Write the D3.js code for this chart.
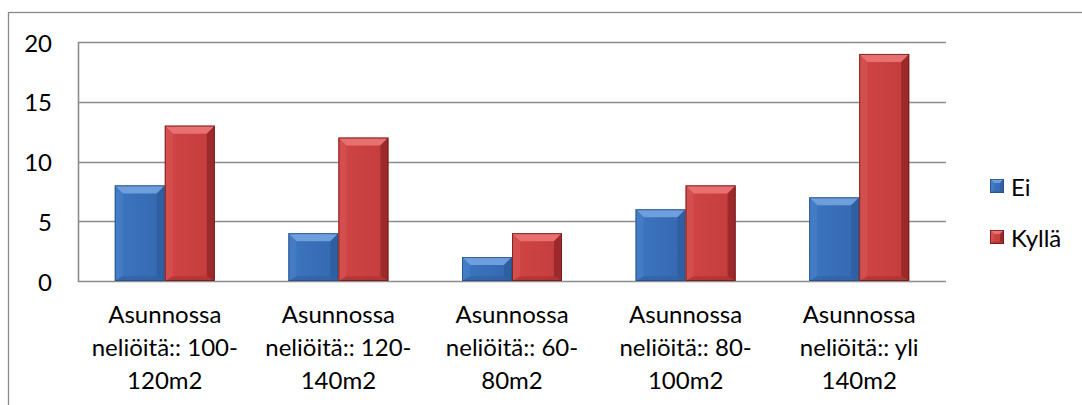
<!DOCTYPE html>
<html>
<head>
<meta charset="utf-8">
<script src="https://cdn.jsdelivr.net/npm/d3@7"></script>
<style>
  html, body { margin: 0; padding: 0; background: #fff; }
  svg { display: block; }
  text { font-family: Lato, "Open Sans", sans-serif; fill: #000; }
</style>
</head>
<body>
<svg id="chart" width="1082" height="405"></svg>
<script>
// Data
const categories = [
  "Asunnossa neliöitä:: 100-120m2",
  "Asunnossa neliöitä:: 120-140m2",
  "Asunnossa neliöitä:: 60-80m2",
  "Asunnossa neliöitä:: 80-100m2",
  "Asunnossa neliöitä:: yli 140m2"
];
const seriesNames = ["Ei", "Kyllä"];
const eiValues = [8, 4, 2, 6, 7];
const kyllaValues = [13, 12, 4, 8, 19];
const yTicks = [0, 5, 10, 15, 20];

const seriesValues = [eiValues, kyllaValues];

// Layout
const W = 1082, H = 405;
const plot = { left: 78, right: 946, top: 42, bottom: 281 };
const fontSize = 24;

const svg = d3.select("#chart");

// Outer chart border (left and top edges visible within the frame)
svg.append("rect")
  .attr("x", 8.5).attr("y", 12.5)
  .attr("width", W + 20).attr("height", H + 20)
  .attr("fill", "none").attr("stroke", "#8a8a8a").attr("stroke-width", 1.3);

const x = d3.scaleBand().domain(categories)
  .range([plot.left, plot.right])
  .paddingInner(0.424).paddingOuter(0.212);
const xs = d3.scaleBand().domain(seriesNames).range([0, x.bandwidth()]);
const y = d3.scaleLinear().domain([0, 20]).range([plot.bottom, plot.top]);

// Gridlines
svg.append("g").selectAll("line").data(yTicks).join("line")
  .attr("x1", plot.left).attr("x2", plot.right)
  .attr("y1", d => Math.round(y(d)) + 0.5).attr("y2", d => Math.round(y(d)) + 0.5)
  .attr("stroke", "#8c8c8c").attr("stroke-width", 1.6);

// Y axis line
svg.append("line")
  .attr("x1", plot.left + 0.5).attr("x2", plot.left + 0.5)
  .attr("y1", plot.top).attr("y2", plot.bottom + 1)
  .attr("stroke", "#8c8c8c").attr("stroke-width", 1.6);

// Y tick labels
svg.append("g").selectAll("text").data(yTicks).join("text")
  .attr("x", 52).attr("y", d => y(d))
  .attr("text-anchor", "end").attr("dominant-baseline", "central")
  .attr("font-size", fontSize)
  .text(d => d);

// Bar palettes (main body, top bevel, sides, bottom, outline)
const palette = {
  "Ei":    { mainL: "#3c75c0", mainR: "#3568b0", top: "#6e9fdc", left: "#4a82c9", right: "#2c5c9e", bottom: "#2e5f9f", stroke: "#254f86" },
  "Kyllä": { mainL: "#d04545", mainR: "#c43c3c", top: "#e87070", left: "#d85555", right: "#8e2424", bottom: "#a52e2e", stroke: "#6e1a1a" }
};

const defs = svg.append("defs");
seriesNames.forEach((s, i) => {
  const g = defs.append("linearGradient").attr("id", "body" + i)
    .attr("x1", "0").attr("x2", "1").attr("y1", "0").attr("y2", "0");
  g.append("stop").attr("offset", "0").attr("stop-color", palette[s].mainL);
  g.append("stop").attr("offset", "1").attr("stop-color", palette[s].mainR);
});

function drawBevelBox(g, x0, y0, w, h, s, i, b) {
  const p = palette[s];
  const x1 = x0 + w, y1 = y0 + h;
  const bb = Math.min(b, h / 2, w / 2);
  g.append("rect").attr("x", x0).attr("y", y0).attr("width", w).attr("height", h)
    .attr("fill", `url(#body${i})`);
  const poly = (pts, fill, op) => g.append("polygon")
    .attr("points", pts.map(q => q.join(",")).join(" "))
    .attr("fill", fill).attr("opacity", op);
  poly([[x0, y0], [x1, y0], [x1 - bb, y0 + bb], [x0 + bb, y0 + bb]], p.top, 1);
  poly([[x0, y0], [x0 + bb, y0 + bb], [x0 + bb, y1 - bb * 0.6], [x0, y1]], p.left, 0.6);
  poly([[x1, y0], [x1 - bb, y0 + bb], [x1 - bb, y1 - bb * 0.6], [x1, y1]], p.right, 0.75);
  poly([[x0, y1], [x0 + bb, y1 - bb * 0.6], [x1 - bb, y1 - bb * 0.6], [x1, y1]], p.bottom, 0.6);
  g.append("rect").attr("x", x0 + 0.5).attr("y", y0 + 0.5)
    .attr("width", w - 1).attr("height", h - 1)
    .attr("fill", "none").attr("stroke", p.stroke).attr("stroke-width", 1).attr("opacity", 0.8);
}

// Bars
const barsG = svg.append("g");
categories.forEach((c, ci) => {
  seriesNames.forEach((s, si) => {
    const v = seriesValues[si][ci];
    const x0 = x(c) + xs(s);
    const y0 = y(v);
    drawBevelBox(barsG, x0, y0, xs.bandwidth(), y(0) - y0, s, si, 8);
  });
});

// Category labels, wrapped to the band step
function wrapTokens(label) {
  const tokens = [];
  label.split(" ").forEach((word, wi, arr) => {
    const parts = word.split(/(?<=-)/);
    parts.forEach((pt, pi) => {
      const last = pi === parts.length - 1;
      tokens.push({ text: pt, space: last && wi < arr.length - 1 });
    });
  });
  return tokens;
}
const measure = svg.append("text").attr("font-size", fontSize).attr("visibility", "hidden");
function textWidth(t) { measure.text(t); return measure.node().getComputedTextLength(); }
function wrapLabel(label, maxW) {
  const tokens = wrapTokens(label);
  const lines = [];
  let cur = "";
  tokens.forEach(tk => {
    const trial = cur + tk.text;
    if (cur && textWidth(trial.trim()) > maxW) {
      lines.push(cur.trim());
      cur = tk.text + (tk.space ? " " : "");
    } else {
      cur = trial + (tk.space ? " " : "");
    }
  });
  if (cur.trim()) lines.push(cur.trim());
  return lines;
}

const labelsG = svg.append("g");
categories.forEach(c => {
  const lines = wrapLabel(c, x.step() - 4);
  const t = labelsG.append("text")
    .attr("text-anchor", "middle").attr("font-size", fontSize)
    .attr("x", x(c) + x.bandwidth() / 2).attr("y", 323);
  lines.forEach((ln, li) => {
    t.append("tspan").attr("x", x(c) + x.bandwidth() / 2)
      .attr("dy", li === 0 ? 0 : 33).text(ln);
  });
});
measure.remove();

// Legend
const legendY = [186, 237];
const legend = svg.append("g");
seriesNames.forEach((s, i) => {
  drawBevelBox(legend, 990, legendY[i] - 7, 14, 14, s, i, 4);
  legend.append("text").attr("x", 1011).attr("y", legendY[i])
    .attr("dominant-baseline", "central").attr("font-size", fontSize)
    .text(s);
});
</script>
</body>
</html>
